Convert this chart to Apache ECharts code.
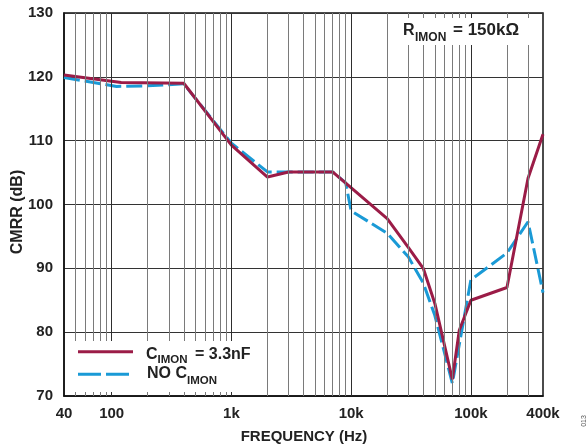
<!DOCTYPE html>
<html><head><meta charset="utf-8">
<script src="https://cdn.jsdelivr.net/npm/echarts@6/dist/echarts.min.js"></script>
<style>html,body{margin:0;padding:0;background:#fff}#c{width:587px;height:448px}</style>
</head><body><div id="c"></div>
<script>
// ---- data ----
const freqRed  = [40, 120, 400, 1000, 2000, 3000, 7000, 20000, 30000, 40000, 50000, 70000, 80000, 100000, 200000, 300000, 400000];
const cmrrRed  = [120.3, 119.1, 119.0, 109.3, 104.3, 105.1, 105.1, 97.8, 93.3, 90.0, 84.5, 72.6, 80.3, 85.0, 87.0, 104.1, 111.0];
const freqBlue = [40, 110, 200, 400, 1000, 2000, 3000, 7000, 9000, 10000, 20000, 30000, 40000, 50000, 70000, 100000, 200000, 300000, 400000];
const cmrrBlue = [119.9, 118.5, 118.6, 118.9, 109.6, 105.1, 105.1, 105.1, 103.4, 99.0, 95.5, 91.8, 87.7, 82.6, 72.0, 88.2, 92.4, 97.3, 86.2];
const xMajorGrid = [100, 1000, 10000, 100000];
const xMinorGrid = [50, 60, 70, 80, 90, 200, 300, 400, 500, 600, 700, 800, 900,
  2000, 3000, 4000, 5000, 6000, 7000, 8000, 9000,
  20000, 30000, 40000, 50000, 60000, 70000, 80000, 90000, 200000, 300000];
const xTickLabels = {40: '40', 100: '100', 1000: '1k', 10000: '10k', 100000: '100k', 400000: '400k'};
const yMin = 70, yMax = 130, yStep = 10;
const redName = 'C_IMON = 3.3nF';
const blueName = 'NO C_IMON';

const FONT = "'Liberation Sans', Arial, sans-serif";
const RED = '#9b1c47', BLUE = '#1a9ad6';

const zip = (a, b) => a.map((v, i) => [v, b[i]]);
const chart = echarts.init(document.getElementById('c'), null, {renderer: 'canvas'});

const gridLines = [].concat(
  xMinorGrid.map(v => ({xAxis: v, lineStyle: {color: '#7a7a7a', width: 1, type: 'solid'}})),
  xMajorGrid.map(v => ({xAxis: v, lineStyle: {color: '#2e2e2e', width: 1, type: 'solid'}}))
);

function txt(x, y, s, size, align) {
  return {
    type: 'text', z: 20, silent: true,
    style: {x: x, y: y, text: s, fill: '#222', font: 'bold ' + size + 'px ' + FONT,
      textAlign: align || 'left', textVerticalAlign: 'middle', verticalAlign: 'middle'}
  };
}

chart.setOption({
  animation: false,
  backgroundColor: '#fff',
  grid: {left: 64, right: 44, top: 13, bottom: 52, show: true, borderColor: '#111', borderWidth: 1.5, backgroundColor: 'transparent'},
  xAxis: {
    type: 'log', logBase: 10, min: 40, max: 400000,
    axisLine: {show: true, lineStyle: {color: '#111', width: 1.5}},
    axisTick: {show: false},
    splitLine: {show: false},
    minorTick: {show: false},
    axisLabel: {
      margin: 10, color: '#222', fontFamily: FONT, fontWeight: 'bold', fontSize: 15,
      showMinLabel: true, showMaxLabel: true,
      formatter: function (v) {
        const r = Math.round(v);
        for (const k in xTickLabels) { if (Math.abs(r - k) / k < 0.01) return xTickLabels[k]; }
        return '';
      }
    }
  },
  yAxis: {
    type: 'value', min: yMin, max: yMax, interval: yStep,
    axisLine: {show: true, lineStyle: {color: '#111', width: 1.5}},
    axisTick: {show: false},
    splitLine: {show: true, lineStyle: {color: '#333', width: 1}},
    axisLabel: {margin: 11, color: '#222', fontFamily: FONT, fontWeight: 'bold', fontSize: 15}
  },
  series: [
    {
      type: 'line', name: 'grid', data: [], z: 1, silent: true,
      markLine: {silent: true, symbol: 'none', label: {show: false}, animation: false, data: gridLines}
    },
    {
      type: 'line', name: blueName, data: zip(freqBlue, cmrrBlue), z: 3,
      showSymbol: false, symbol: 'none',
      lineStyle: {color: BLUE, width: 3, type: [16, 5]}
    },
    {
      type: 'line', name: redName, data: zip(freqRed, cmrrRed), z: 4,
      showSymbol: false, symbol: 'none',
      lineStyle: {color: RED, width: 3}
    }
  ],
  graphic: [
    // legend box
    {type: 'rect', z: 10, silent: true, shape: {x: 65.5, y: 341, width: 193, height: 51}, style: {fill: '#fff'}},
    {type: 'line', z: 20, silent: true, shape: {x1: 78, y1: 351.7, x2: 133, y2: 351.7}, style: {stroke: RED, lineWidth: 3}},
    {type: 'line', z: 20, silent: true, shape: {x1: 78, y1: 374.3, x2: 130, y2: 374.3}, style: {stroke: BLUE, lineWidth: 3, lineDash: [23, 5]}},
    txt(146, 355, 'C', 16),
    txt(157.5, 360, 'IMON', 11.5),
    txt(195, 355, '= 3.3nF', 16),
    txt(147, 374, 'NO C', 16),
    txt(187, 381, 'IMON', 11.5),
    // R label box
    {type: 'rect', z: 10, silent: true, shape: {x: 397, y: 18, width: 133, height: 27}, style: {fill: '#fff'}},
    txt(403, 30.5, 'R', 16),
    txt(415, 38, 'IMON', 12),
    txt(453, 30.5, '= 150kΩ', 17),
    // axis titles
    txt(304, 437, 'FREQUENCY (Hz)', 15, 'center'),
    {type: 'text', z: 20, silent: true, x: 18, y: 212, rotation: Math.PI / 2,
      style: {x: 0, y: 0, text: 'CMRR (dB)', fill: '#222', font: 'bold 16px ' + FONT, textAlign: 'center', textVerticalAlign: 'middle', verticalAlign: 'middle'}},
    {type: 'text', z: 20, silent: true, x: 584, y: 421, rotation: Math.PI / 2,
      style: {x: 0, y: 0, text: '013', fill: '#555', font: '7px ' + FONT, textAlign: 'center', textVerticalAlign: 'middle', verticalAlign: 'middle'}}
  ]
});
</script>
</body></html>
